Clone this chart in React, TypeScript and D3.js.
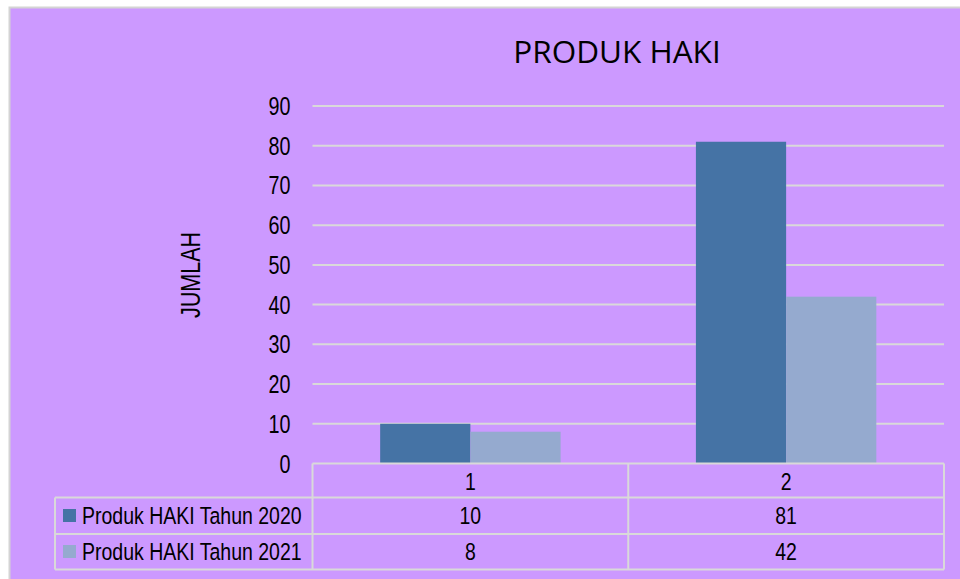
import { useEffect, useRef } from "react";
import * as d3 from "d3";

const categories = ["1", "2"];
const seriesNames = ["Produk HAKI Tahun 2020", "Produk HAKI Tahun 2021"];
const values2020 = [10, 81];
const values2021 = [8, 42];
const yTicks = [0, 10, 20, 30, 40, 50, 60, 70, 80, 90];

const App = () => {
  const svgRef = useRef<SVGSVGElement | null>(null);
  const width = 960;
  const height = 579;

  useEffect(() => {
    const svg = d3.select(svgRef.current);
    svg.selectAll("*").remove();

    const series = [values2020, values2021];
    const colors = ["#4573A5", "#95AACF"];
    const grid = "#D9D9D9";
    const font = "'Liberation Sans', Arial, sans-serif";
    const squeeze = 0.81;

    // chart area background
    svg
      .append("rect")
      .attr("x", 9.5)
      .attr("y", 7.5)
      .attr("width", 1000)
      .attr("height", 700)
      .attr("fill", "#CC99FF")
      .attr("stroke", "#D4D4D4")
      .attr("stroke-width", 2);

    const plotLeft = 312.5;
    const plotRight = 944;
    const x0 = d3.scaleBand().domain(categories).range([plotLeft, plotRight]).padding(0);
    const step = x0.bandwidth();
    const barW = step / 3.5; // gap width 150%
    const x1 = d3
      .scaleBand()
      .domain(seriesNames)
      .range([(step - 2 * barW) / 2, (step + 2 * barW) / 2]);
    const y = d3.scaleLinear().domain([0, 90]).range([463.5, 106]);

    // small helper: horizontally condensed text
    const label = (
      px: number,
      py: number,
      txt: string,
      anchor: string,
      size = 24,
      sx = squeeze
    ) => {
      svg
        .append("g")
        .attr("transform", `translate(${px},${py}) scale(${sx},1)`)
        .append("text")
        .attr("text-anchor", anchor)
        .attr("font-family", font)
        .attr("font-size", size)
        .attr("fill", "#000")
        .text(txt);
    };

    // gridlines
    svg
      .append("g")
      .selectAll("line")
      .data(yTicks.slice(1))
      .enter()
      .append("line")
      .attr("x1", plotLeft)
      .attr("x2", plotRight)
      .attr("y1", (d) => y(d))
      .attr("y2", (d) => y(d))
      .attr("stroke", grid)
      .attr("stroke-width", 2);

    // y tick labels
    yTicks.forEach((t) => label(290.5, y(t) + 9, String(t), "end", 25, 0.79));

    // bars
    categories.forEach((c, ci) => {
      series.forEach((vals, si) => {
        svg
          .append("rect")
          .attr("x", (x0(c) as number) + (x1(seriesNames[si]) as number))
          .attr("y", y(vals[ci]))
          .attr("width", x1.bandwidth())
          .attr("height", y(0) - y(vals[ci]))
          .attr("fill", colors[si]);
      });
    });

    // data table
    const rowY = [463.5, 497.5, 534, 569.5];
    const tableLeft = 55;
    const tbl = svg.append("g").attr("stroke", grid).attr("stroke-width", 2).attr("fill", "none");
    tbl.append("line").attr("x1", plotLeft).attr("x2", plotRight).attr("y1", rowY[0]).attr("y2", rowY[0]);
    [rowY[1], rowY[2], rowY[3]].forEach((ry) =>
      tbl.append("line").attr("x1", tableLeft).attr("x2", plotRight).attr("y1", ry).attr("y2", ry)
    );
    tbl.append("line").attr("x1", tableLeft).attr("x2", tableLeft).attr("y1", rowY[1]).attr("y2", rowY[3]);
    [plotLeft, (x0("2") as number), plotRight].forEach((vx) =>
      tbl.append("line").attr("x1", vx).attr("x2", vx).attr("y1", rowY[0]).attr("y2", rowY[3])
    );

    const baselines = [489.5, 523.5, 559.5];
    categories.forEach((c) => {
      const cx = (x0(c) as number) + step / 2;
      label(cx, baselines[0], c, "middle");
      series.forEach((vals, si) => label(cx, baselines[si + 1], String(vals[categories.indexOf(c)]), "middle"));
    });

    // legend keys in table
    seriesNames.forEach((name, si) => {
      svg
        .append("rect")
        .attr("x", 63)
        .attr("y", baselines[si + 1] - 14.5)
        .attr("width", 13)
        .attr("height", 13)
        .attr("fill", colors[si]);
      label(82, baselines[si + 1], name, "start", 23.5, 0.83);
    });

    // axis title
    svg
      .append("g")
      .attr("transform", `translate(200,275) rotate(-90) scale(0.77,1)`)
      .append("text")
      .attr("text-anchor", "middle")
      .attr("font-family", font)
      .attr("font-size", 28)
      .attr("fill", "#000")
      .text("JUMLAH");

    // chart title
    svg
      .append("text")
      .attr("x", 617)
      .attr("y", 63)
      .attr("text-anchor", "middle")
      .attr("font-family", "'Open Sans', sans-serif")
      .attr("font-size", 31.5)
      .attr("fill", "#000")
      .text("PRODUK HAKI");
  }, []);

  return (
    <svg
      ref={svgRef}
      width={width}
      height={height}
      style={{ position: "absolute", left: 0, top: 0, background: "#fff" }}
    />
  );
};

export default App;
